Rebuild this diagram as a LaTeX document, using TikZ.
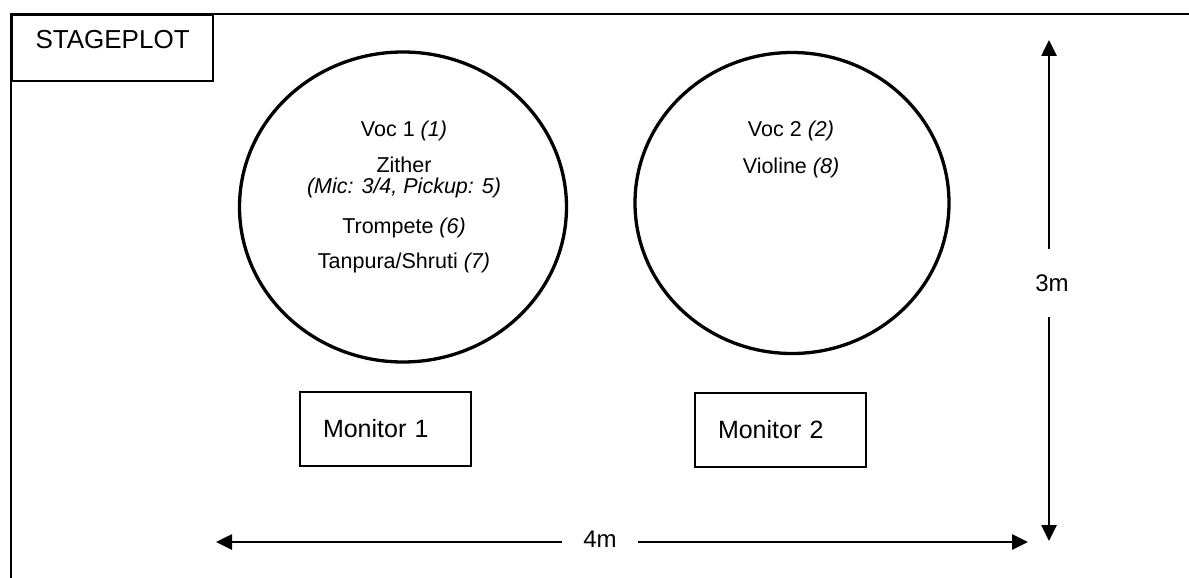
\documentclass[tikz,border=0pt]{standalone}
\usepackage{fontspec}
\setmainfont{Liberation Sans}
\usetikzlibrary{arrows.meta}
\usetikzlibrary{shapes.geometric}

\begin{document}
\begin{tikzpicture}[x=1pt,y=-1pt,
  >={Triangle[length=16pt,width=15pt]},
  zone/.style={ellipse,draw=black,line width=3.3pt,inner sep=0pt},
  player/.style={anchor=base,font=\fontsize{21.5}{26}\selectfont},
  monbox/.style={rectangle,draw=black,line width=2.2pt,minimum width=171pt,minimum height=74pt,
    text width=125pt,inner xsep=23pt,align=left,font=\fontsize{25}{30}\selectfont},
  measure/.style={line width=2.6pt},
  dimlabel/.style={font=\fontsize{24}{28}\selectfont}]
\useasboundingbox (0,0) rectangle (1189,578);
\draw [line width=1.8pt] (11,578) -- (11,14) -- (1189,14);
\node at (  11,  14) (title)     [anchor=north west,draw=black,line width=1.8pt,minimum width=201pt,minimum height=66pt] {};
\node at (  32,  49) (titletext) [anchor=base west,font=\fontsize{26}{30}\selectfont] {STAGEPLOT};
\node at ( 403, 207) (zone1)     [zone,minimum width=327pt,minimum height=310pt] {};
\node at ( 792, 203) (zone2)     [zone,minimum width=314pt,minimum height=301pt] {};
\node at ( 404, 136) (voc1)      [player] {Voc 1 \textit{(1)}};
\node at ( 404, 172) (zither)    [player] {Zither};
\node at ( 404, 193) (zithermic) [player] {\textit{(Mic: 3/4, Pickup: 5)}};
\node at ( 404, 233) (trompete)  [player] {Trompete \textit{(6)}};
\node at ( 404, 268) (tanpura)   [player] {Tanpura/Shruti \textit{(7)}};
\node at ( 791, 136) (voc2)      [player] {Voc 2 \textit{(2)}};
\node at ( 791, 173) (violine)   [player] {Violine \textit{(8)}};
\node at (385.5, 429) (mon1)     [monbox] {Monitor 1};
\node at (780.5, 430) (mon2)     [monbox] {Monitor 2};
\coordinate (stageleft)   at ( 216, 542);
\coordinate (stageright)  at (1028, 542);
\coordinate (stagetop)    at (1049,  40);
\coordinate (stagebottom) at (1049, 541);
\node at ( 600, 539) (width) [dimlabel,inner xsep=21pt] {4m};
\node at (1052, 283) (depth) [dimlabel,minimum height=68pt] {3m};
\draw [measure,->] (width.west |- stageleft) -- (stageleft);
\draw [measure,->] (width.east |- stageright) -- (stageright);
\draw [measure,->] (depth.north -| stagetop) -- (stagetop);
\draw [measure,->] (depth.south -| stagebottom) -- (stagebottom);
\end{tikzpicture}
\end{document}
